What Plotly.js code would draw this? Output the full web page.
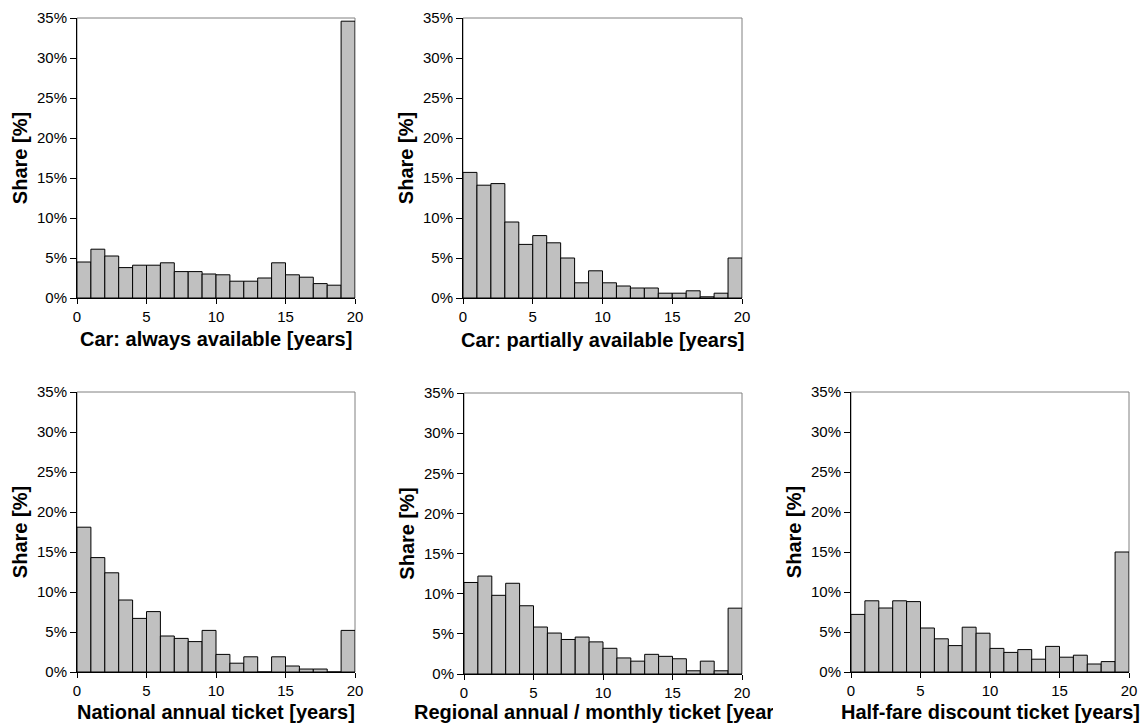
<!DOCTYPE html>
<html>
<head>
<meta charset="utf-8">
<script src="https://cdn.plot.ly/plotly-3.0.1.min.js"></script>
<style>
html, body { margin: 0; padding: 0; background: #ffffff; }
#chart { width: 1146px; height: 724px; }
</style>
</head>
<body>
<div id="chart"></div>
<script>
// Bin centres (years): bins 0-1, 1-2, ..., 19-20
const binCenters = [0.5,1.5,2.5,3.5,4.5,5.5,6.5,7.5,8.5,9.5,10.5,11.5,12.5,13.5,14.5,15.5,16.5,17.5,18.5,19.5];

// Shares in percent
const carAlways   = [4.5,6.1,5.25,3.8,4.1,4.1,4.4,3.3,3.3,3.0,2.9,2.1,2.1,2.5,4.4,2.9,2.6,1.8,1.6,34.6];
const carPartial  = [15.7,14.1,14.3,9.5,6.7,7.8,6.9,5.0,1.9,3.4,1.9,1.5,1.25,1.25,0.6,0.6,0.9,0.15,0.6,5.0];
const nationalGA  = [18.1,14.3,12.4,9.0,6.7,7.55,4.5,4.2,3.8,5.2,2.2,1.1,1.9,0,1.9,0.75,0.37,0.37,0,5.2];
const regional    = [11.4,12.2,9.8,11.3,8.5,5.85,5.1,4.3,4.6,4.0,3.2,2.0,1.6,2.45,2.2,1.9,0.4,1.6,0.4,8.2];
const halfFare    = [7.2,8.9,8.0,8.9,8.8,5.5,4.15,3.3,5.6,4.85,2.95,2.45,2.8,1.6,3.2,1.85,2.1,1.0,1.3,15.0];

const xTitles = [
  "Car: always available [years]",
  "Car: partially available [years]",
  "National annual ticket [years]",
  "Regional annual / monthly ticket [years]",
  "Half-fare discount ticket [years]"
];
const yTitle = "Share [%]";
const xTickVals = [0,5,10,15,20];
const xTickText = ["0","5","10","15","20"];
const yTickVals = [0,5,10,15,20,25,30,35];
const yTickText = ["0%","5%","10%","15%","20%","25%","30%","35%"];

const series = [carAlways, carPartial, nationalGA, regional, halfFare];

// pixel boxes of each plot area [left, right, top, bottom] and x-title centre y
const W = 1146, H = 724;
const boxes = [
  [77, 355, 18, 298, 339],
  [463, 742, 18, 298, 340],
  [77, 355, 392, 672, 712],
  [464, 742, 393, 674, 712],
  [851, 1129, 392, 672, 712]
];

const FONT = '"Liberation Sans", Arial, sans-serif';

const data = [];
const layout = {
  width: W, height: H,
  margin: {l: 0, r: 0, t: 0, b: 0, pad: 0},
  paper_bgcolor: '#ffffff',
  plot_bgcolor: '#ffffff',
  showlegend: false,
  bargap: 0,
  font: {family: FONT, size: 15, color: '#000000'},
  shapes: [],
  annotations: []
};

series.forEach(function(vals, i) {
  const n = i + 1;
  const xa = n === 1 ? 'x' : 'x' + n;
  const ya = n === 1 ? 'y' : 'y' + n;
  data.push({
    type: 'bar',
    x: binCenters,
    y: vals,
    width: 1,
    xaxis: xa, yaxis: ya,
    marker: {color: '#c0c0c0', line: {color: '#000000', width: 1}},
    hoverinfo: 'x+y'
  });
  const b = boxes[i];
  const xKey = n === 1 ? 'xaxis' : 'xaxis' + n;
  const yKey = n === 1 ? 'yaxis' : 'yaxis' + n;
  layout[xKey] = {
    domain: [b[0] / W, b[1] / W],
    anchor: ya,
    range: [0, 20],
    tickmode: 'array',
    tickvals: xTickVals,
    ticktext: xTickText,
    ticks: 'outside', ticklen: 5, tickwidth: 1, tickcolor: '#000000',
    showline: true, linecolor: '#000000', linewidth: 1,
    showgrid: false, zeroline: false,
    tickfont: {family: FONT, size: 15, color: '#000000'}
  };
  layout[yKey] = {
    domain: [1 - b[3] / H, 1 - b[2] / H],
    anchor: xa,
    range: [0, 35],
    tickmode: 'array',
    tickvals: yTickVals,
    ticktext: yTickText,
    ticks: 'outside', ticklen: 6, tickwidth: 1, tickcolor: '#000000',
    showline: true, linecolor: '#000000', linewidth: 1,
    showgrid: false, zeroline: false,
    tickfont: {family: FONT, size: 15, color: '#000000'},
    title: {text: yTitle, font: {family: FONT, size: 20, color: '#000000', weight: 'bold'}}
  };
  layout.shapes.push({
    type: 'rect', xref: xa + ' domain', yref: ya + ' domain',
    x0: 0, x1: 1, y0: 0, y1: 1,
    line: {color: '#808080', width: 1}, fillcolor: 'rgba(0,0,0,0)', layer: 'below'
  });
  layout.annotations.push({
    text: '<b>' + xTitles[i] + '</b>',
    xref: 'paper', yref: 'paper',
    x: (b[0] + b[1]) / 2 / W, y: 1 - b[4] / H,
    xanchor: 'center', yanchor: 'middle',
    showarrow: false,
    font: {family: FONT, size: 20, color: '#000000'}
  });
});

Plotly.newPlot('chart', data, layout, {staticPlot: true, displayModeBar: false}).then(function(gd) {
  // The reference crops the 4th x title at the edge of its panel (x ≈ 773 px).
  const anns = gd.querySelectorAll('.annotation');
  const a = anns[3];
  if (!a) return;
  const txt = a.querySelector('text');
  if (!txt) return;
  const svg = txt.ownerSVGElement;
  const ns = 'http://www.w3.org/2000/svg';
  const ctm = txt.getScreenCTM();
  if (!ctm) return;
  const pt = svg.createSVGPoint();
  pt.x = 773; pt.y = 0;
  const local = pt.matrixTransform(ctm.inverse());
  let defs = svg.querySelector('defs');
  if (!defs) { defs = document.createElementNS(ns, 'defs'); svg.insertBefore(defs, svg.firstChild); }
  const cp = document.createElementNS(ns, 'clipPath');
  cp.setAttribute('id', 'clip-x4title');
  const r = document.createElementNS(ns, 'rect');
  r.setAttribute('x', -10000); r.setAttribute('y', -10000);
  r.setAttribute('width', local.x + 10000); r.setAttribute('height', 20000);
  cp.appendChild(r);
  defs.appendChild(cp);
  txt.setAttribute('clip-path', 'url(#clip-x4title)');
});
</script>
</body>
</html>
